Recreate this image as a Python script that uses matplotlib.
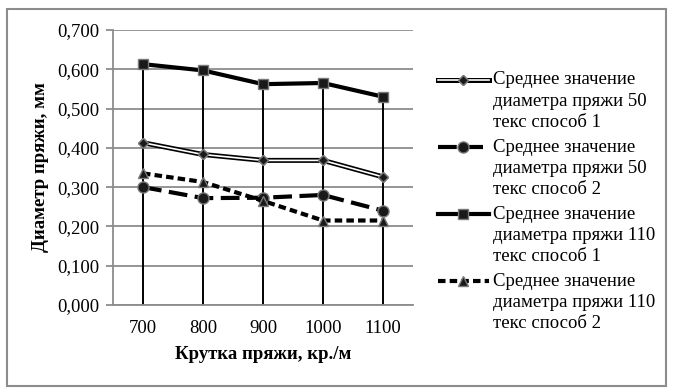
import numpy as np
import matplotlib.pyplot as plt
from matplotlib.legend_handler import HandlerTuple
from matplotlib.patches import Rectangle
from matplotlib.ticker import FuncFormatter

plt.rcParams['font.family'] = ['Liberation Serif', 'DejaVu Serif']

# данные
krutka = [700, 800, 900, 1000, 1100]
d50_1 = [0.413, 0.383, 0.368, 0.368, 0.326]
d50_2 = [0.300, 0.272, 0.273, 0.280, 0.240]
d110_1 = [0.613, 0.597, 0.562, 0.565, 0.530]
d110_2 = [0.335, 0.313, 0.265, 0.215, 0.215]
labels = ["Среднее значение\nдиаметра пряжи 50\nтекс способ 1",
          "Среднее значение\nдиаметра пряжи 50\nтекс способ 2",
          "Среднее значение\nдиаметра пряжи 110\nтекс способ 1",
          "Среднее значение\nдиаметра пряжи 110\nтекс способ 2"]

x = np.arange(len(krutka))
FS = 13.5
LSP = 1.33


class TopTuple(HandlerTuple):
    # ручка легенды на уровне первой строки подписи
    def create_artists(self, legend, orig_handle, xdescent, ydescent,
                       width, height, fontsize, trans):
        shift = 2 * fontsize * 1.12
        return super().create_artists(legend, orig_handle, xdescent,
                                      ydescent - shift, width, height,
                                      fontsize, trans)


fig = plt.figure(figsize=(6.74, 3.89), dpi=100)
fig.patches.append(Rectangle((0.0104, 0.008), 0.977, 0.969, transform=fig.transFigure,
                             fill=False, edgecolor="#8c8c8c", linewidth=1.5))
ax = fig.add_axes([0.1677, 0.216, 0.445, 0.707])

# линии проекции
top = np.max([d50_1, d50_2, d110_1, d110_2], axis=0)
ax.vlines(x, 0, top, color="black", lw=1.4, zorder=2)

mk = dict(markerfacecolor="#1a1a1a", markeredgecolor="#7a7a7a", markeredgewidth=1.0)

l1a, = ax.plot(x, d50_1, color="black", lw=3.6, marker="D", markersize=5.5, zorder=3, **mk)
l1b, = ax.plot(x, d50_1, color="white", lw=1.2, zorder=3.1)
l1c, = ax.plot(x, d50_1, ls="none", marker="D", markersize=5.5, zorder=3.2, **mk)
l2, = ax.plot(x, d50_2, color="black", lw=3.0, dashes=(4.5, 1.8), marker="o",
              markersize=8, zorder=4, **mk)
l3, = ax.plot(x, d110_1, color="black", lw=3.0, marker="s", markersize=7.5, zorder=4, **mk)
l4, = ax.plot(x, d110_2, color="black", lw=3.0, dashes=(1.8, 1.0), marker="^",
              markersize=7.5, zorder=5, **mk)

ax.set_xlim(-0.5, 4.5)
ax.set_ylim(0, 0.7)
ax.set_yticks(np.arange(0, 0.701, 0.1))
ax.yaxis.set_major_formatter(FuncFormatter(lambda v, p: f"{v:.3f}".replace(".", ",")))
ax.set_xticks(x)
ax.set_xticklabels(krutka)
ax.grid(axis="y", color="#8c8c8c", lw=1.3)
ax.set_axisbelow(True)
for s in ["top", "right"]:
    ax.spines[s].set_visible(False)
for s in ["left", "bottom"]:
    ax.spines[s].set_color("#8c8c8c")
    ax.spines[s].set_linewidth(1.3)
ax.tick_params(axis="y", length=5, color="#8c8c8c", width=1.3, labelsize=FS, pad=5)
ax.tick_params(axis="x", length=0, labelsize=FS, pad=11)

ax.set_xlabel("Крутка пряжи, кр./м", fontsize=FS, fontweight="bold", labelpad=6)
ax.set_ylabel("Диаметр пряжи, мм", fontsize=FS, fontweight="bold", labelpad=6)

leg = fig.legend([(l1a, l1b, l1c), (l2,), (l3,), (l4,)], labels,
                 handler_map={tuple: TopTuple(ndivide=1, pad=0)},
                 loc="center left", bbox_to_anchor=(0.625, 0.481), frameon=False,
                 fontsize=FS, handlelength=2.7, handletextpad=0.25, labelspacing=0.4)
for t in leg.get_texts():
    t.set_linespacing(LSP)

fig.savefig("out.png", dpi=100)
